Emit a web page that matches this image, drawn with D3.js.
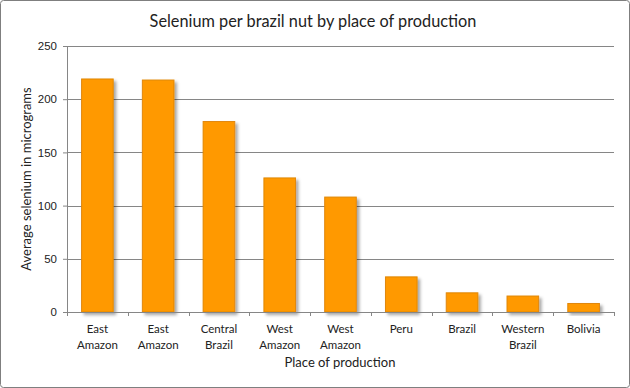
<!DOCTYPE html>
<html>
<head>
<meta charset="utf-8">
<script src="https://cdn.jsdelivr.net/npm/d3@7"></script>
<style>
  body { margin: 0; background: #fff; }
  svg { display: block; }
</style>
</head>
<body>
<script>
// chart data
let places = ['East|Amazon', 'East|Amazon', 'Central|Brazil', 'West|Amazon', 'West|Amazon',
              'Peru', 'Brazil', 'Western|Brazil', 'Bolivia'];
let selenium = [219, 218, 179, 126, 108, 33, 18, 15, 8];
let yTicks = [0, 50, 100, 150, 200, 250];

let width = 630, height = 388;
let margin = {top: 46, right: 16, bottom: 76, left: 67};
let innerW = width - margin.left - margin.right,
    innerH = height - margin.top - margin.bottom;

let svg = d3.select('body').append('svg')
    .attr('width', width)
    .attr('height', height)
    .style('font-family', 'Lato, "Open Sans", sans-serif');

// outer frame
svg.append('rect')
    .attr('x', 0.5).attr('y', 0.5)
    .attr('width', width - 1).attr('height', height - 1)
    .attr('rx', 3)
    .attr('fill', '#fff')
    .attr('stroke', '#7f7f7f');

let defs = svg.append('defs');
let f = defs.append('filter').attr('id', 'shadow')
    .attr('x', '-20%').attr('y', '-20%').attr('width', '160%').attr('height', '160%');
f.append('feDropShadow')
    .attr('dx', 2.5).attr('dy', 2.5).attr('stdDeviation', 1.5)
    .attr('flood-color', '#000').attr('flood-opacity', 0.35);

let g = svg.append('g')
    .attr('transform', `translate(${margin.left},${margin.top})`);

//scales
let x = d3.scaleBand()
    .domain(d3.range(places.length))
    .range([0, innerW])
    .paddingInner(0.48)
    .paddingOuter(0.24);

let y = d3.scaleLinear()
    .domain([0, 250])
    .range([innerH, 0]);

// gridlines
g.selectAll('line.grid')
    .data(yTicks.filter(t => t > 0))
    .enter().append('line')
    .attr('class', 'grid')
    .attr('x1', 0).attr('x2', innerW)
    .attr('y1', d => Math.round(y(d)) + 0.5)
    .attr('y2', d => Math.round(y(d)) + 0.5)
    .attr('stroke', '#868686');

// bars
g.selectAll('rect.bar')
    .data(selenium)
    .enter().append('rect')
    .attr('class', 'bar')
    .attr('x', (d, i) => x(i))
    .attr('y', d => y(d))
    .attr('width', x.bandwidth())
    .attr('height', d => innerH - y(d))
    .attr('fill', '#ff9900')
    .attr('stroke', '#e0870a')
    .attr('stroke-width', 1)
    .attr('filter', 'url(#shadow)');

// y axis
let yAxis = g.append('g')
    .call(d3.axisLeft(y).tickValues(yTicks).tickSize(4).tickPadding(6));
yAxis.select('.domain').attr('stroke', '#868686').attr('d', `M0.5,0V${innerH}`);
yAxis.selectAll('.tick line').attr('stroke', '#868686');
yAxis.selectAll('text').attr('font-size', 11.5).attr('fill', '#222');

// x axis
let xAxisG = g.append('g').attr('transform', `translate(0,${innerH})`);
xAxisG.append('line')
    .attr('x1', 0).attr('x2', innerW)
    .attr('y1', 0.5).attr('y2', 0.5)
    .attr('stroke', '#868686');
xAxisG.selectAll('line.xt')
    .data(d3.range(places.length + 1))
    .enter().append('line')
    .attr('class', 'xt')
    .attr('x1', i => Math.round(i * innerW / places.length) + 0.5)
    .attr('x2', i => Math.round(i * innerW / places.length) + 0.5)
    .attr('y1', 0).attr('y2', 4)
    .attr('stroke', '#868686');

let labels = xAxisG.selectAll('text.xl')
    .data(places)
    .enter().append('text')
    .attr('class', 'xl')
    .attr('text-anchor', 'middle')
    .attr('font-size', 11.5)
    .attr('fill', '#222')
    .attr('transform', (d, i) => `translate(${x(i) + x.bandwidth() / 2},0)`);
labels.each(function(d) {
    d.split('|').forEach((line, k) => {
        d3.select(this).append('tspan')
            .attr('x', 0)
            .attr('y', 21 + k * 16)
            .text(line);
    });
});

// titles
svg.append('text')
    .attr('x', 313).attr('y', 27)
    .attr('text-anchor', 'middle')
    .attr('font-size', 16.3)
    .attr('fill', '#222')
    .text('Selenium per brazil nut by place of production');

svg.append('text')
    .attr('x', 340).attr('y', 367)
    .attr('text-anchor', 'middle')
    .attr('font-size', 13)
    .attr('fill', '#222')
    .text('Place of production');

svg.append('text')
    .attr('transform', `translate(31,${margin.top + innerH / 2}) rotate(-90)`)
    .attr('text-anchor', 'middle')
    .attr('font-size', 13)
    .attr('fill', '#222')
    .text('Average selenium in micrograms');
</script>
</body>
</html>
